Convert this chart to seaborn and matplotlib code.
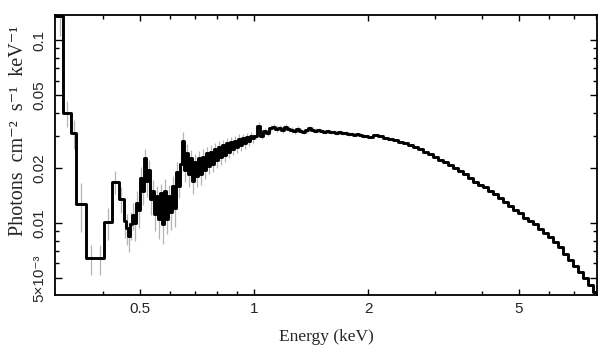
import numpy as np
import pandas as pd
import matplotlib
matplotlib.use("Agg")
import matplotlib.pyplot as plt
import seaborn as sns
from matplotlib.ticker import FixedLocator, FixedFormatter, NullFormatter

# ---------------- data (energy bins in keV, flux in photons cm^-2 s^-1 keV^-1)
soft_edges = [0.300, 0.314, 0.329, 0.340, 0.360, 0.383, 0.403, 0.423, 0.439, 0.454, 0.4595]
soft_flux = [0.135, 0.0398, 0.0309, 0.0127, 0.0064, 0.0064, 0.0101, 0.0168, 0.0135, 0.0103]
soft_err = [0.030, 0.0065, 0.0055, 0.0038, 0.0012, 0.0012, 0.0020, 0.0025, 0.0022, 0.0020]

mid_edges = [
    0.4595, 0.4651, 0.4708, 0.4766, 0.4824, 0.4883, 0.4942, 0.5003,
    0.5064, 0.5126, 0.5188, 0.5252, 0.5316, 0.5381, 0.5447, 0.5513,
    0.5581, 0.5649, 0.5718, 0.5788, 0.5859, 0.5930, 0.6003, 0.6076,
    0.6150, 0.6225, 0.6302, 0.6379, 0.6457, 0.6535, 0.6615, 0.6696,
    0.6778, 0.6861, 0.6945, 0.7030, 0.7115, 0.7202, 0.7290, 0.7380,
    0.7470, 0.7561, 0.7653, 0.7747, 0.7842, 0.7937, 0.8034, 0.8133,
    0.8232, 0.8333, 0.8434, 0.8537, 0.8642, 0.8747, 0.8854, 0.8962,
    0.9072, 0.9183, 0.9295, 0.9409, 0.9524, 0.9640, 0.9758, 0.9877,
    1.0000]
mid_flux = [
    0.0094, 0.0085, 0.0098, 0.0110, 0.0100, 0.0128, 0.0118, 0.0175,
    0.0150, 0.0225, 0.0170, 0.0195, 0.0135, 0.0150, 0.0112, 0.0140,
    0.0105, 0.0145, 0.0098, 0.0150, 0.0105, 0.0140, 0.0115, 0.0160,
    0.0120, 0.0190, 0.0160, 0.0210, 0.0280, 0.0195, 0.0240, 0.0185,
    0.0225, 0.0170, 0.0215, 0.0180, 0.0225, 0.0185, 0.0230, 0.0195,
    0.0240, 0.0205, 0.0245, 0.0210, 0.0255, 0.0220, 0.0260, 0.0228,
    0.0265, 0.0235, 0.0272, 0.0245, 0.0278, 0.0252, 0.0282, 0.0260,
    0.0288, 0.0265, 0.0292, 0.0272, 0.0296, 0.0280, 0.0300, 0.0290]
mid_err = [
    0.0018, 0.0016, 0.0017, 0.0019, 0.0020, 0.0021, 0.0024, 0.0026,
    0.0025, 0.0030, 0.0032, 0.0026, 0.0024, 0.0021, 0.0022, 0.0020,
    0.0023, 0.0019, 0.0021, 0.0024, 0.0018, 0.0022, 0.0024, 0.0020,
    0.0025, 0.0026, 0.0024, 0.0027, 0.0033, 0.0028, 0.0029, 0.0027,
    0.0025, 0.0026, 0.0024, 0.0022, 0.0023, 0.0023, 0.0022, 0.0022,
    0.0021, 0.0021, 0.0020, 0.0021, 0.0020, 0.0020, 0.0019, 0.0020,
    0.0019, 0.0019, 0.0018, 0.0019, 0.0018, 0.0018, 0.0017, 0.0018,
    0.0017, 0.0017, 0.0016, 0.0017, 0.0016, 0.0016, 0.0016, 0.0016]

hard_edges = [
    1.000, 1.018, 1.037, 1.056, 1.076, 1.095, 1.116, 1.136,
    1.157, 1.178, 1.200, 1.222, 1.244, 1.267, 1.291, 1.314,
    1.339, 1.363, 1.388, 1.414, 1.440, 1.466, 1.493, 1.521,
    1.549, 1.577, 1.606, 1.636, 1.666, 1.696, 1.727, 1.759,
    1.792, 1.825, 1.858, 1.892, 1.927, 1.962, 1.999]
hard_flux = [
    0.0300, 0.0340, 0.0300, 0.0318, 0.0312, 0.0330, 0.0336, 0.0325,
    0.0330, 0.0322, 0.0335, 0.0326, 0.0322, 0.0318, 0.0326, 0.0320,
    0.0316, 0.0322, 0.0330, 0.0324, 0.0320, 0.0322, 0.0318, 0.0314,
    0.0318, 0.0314, 0.0316, 0.0312, 0.0314, 0.0309, 0.0310, 0.0306,
    0.0308, 0.0304, 0.0305, 0.0301, 0.0300, 0.0297]
hard_err = [
    0.0014, 0.0016, 0.0014, 0.0013, 0.0013, 0.0013, 0.0013, 0.0012,
    0.0012, 0.0012, 0.0012, 0.0011, 0.0011, 0.0011, 0.0011, 0.0010,
    0.0010, 0.0010, 0.0010, 0.0010, 0.0009, 0.0009, 0.0009, 0.0009,
    0.0009, 0.0008, 0.0008, 0.0008, 0.0008, 0.0008, 0.0008, 0.0008,
    0.0007, 0.0007, 0.0007, 0.0007, 0.0007, 0.0007]

tail_edges = [
    1.999, 2.060, 2.124, 2.189, 2.257, 2.326, 2.398, 2.472,
    2.548, 2.627, 2.708, 2.791, 2.878, 2.966, 3.058, 3.152,
    3.249, 3.350, 3.453, 3.559, 3.669, 3.782, 3.899, 4.019,
    4.143, 4.271, 4.403, 4.539, 4.679, 4.823, 4.972, 5.125,
    5.283, 5.446, 5.614, 5.787, 5.966, 6.150, 6.339, 6.535,
    6.737, 6.944, 7.159, 7.379, 7.607, 7.842, 8.050]
tail_flux = [
    0.0296, 0.0303, 0.0300, 0.0290, 0.0287, 0.0283, 0.0276, 0.0272,
    0.0266, 0.0260, 0.0254, 0.0245, 0.0237, 0.0229, 0.0222, 0.0215,
    0.0207, 0.0200, 0.0192, 0.0185, 0.0176, 0.0168, 0.0162, 0.0157,
    0.0150, 0.0143, 0.0137, 0.0130, 0.0124, 0.0118, 0.0113, 0.0107,
    0.0102, 0.0098, 0.0093, 0.0088, 0.0084, 0.0079, 0.0074, 0.0068,
    0.0063, 0.0058, 0.0054, 0.0050, 0.0046, 0.0042]

x_ticks = [0.5, 1, 2, 5]
x_ticklabels = ["0.5", "1", "2", "5"]
x_minor = [0.4, 0.6, 0.7, 0.8, 0.9, 3, 4, 6, 7, 8]
y_ticks = [0.005, 0.01, 0.02, 0.05, 0.1]
y_ticklabels = ["5\u00d710\u207b\u00b3", "0.01", "0.02", "0.05", "0.1"]
y_minor = [0.006, 0.007, 0.008, 0.009, 0.03, 0.04, 0.06, 0.07, 0.08, 0.09]

# ---------------- assemble
edges = np.array(soft_edges + mid_edges[1:] + hard_edges[1:] + tail_edges[1:])
flux = np.array(soft_flux + mid_flux + hard_flux + tail_flux)
err_edges = np.array(soft_edges + mid_edges[1:] + hard_edges[1:])
err_flux = np.array(soft_flux + mid_flux + hard_flux)
err_sig = np.array(soft_err + mid_err + hard_err)
err_cent = np.sqrt(err_edges[:-1] * err_edges[1:])

step_df = pd.DataFrame({"energy": edges, "flux": np.r_[flux, flux[-1]]})

# ---------------- style
sns.set_style("ticks")
plt.rcParams["font.family"] = ["Liberation Sans", "DejaVu Sans"]

fig = plt.figure(figsize=(6.08, 3.57), dpi=100)
ax = fig.add_axes([0.0905, 0.174, 0.8915, 0.784])
ax.set_xscale("log")
ax.set_yscale("log")

ax.vlines(err_cent, err_flux - err_sig, err_flux + err_sig,
          color="#b4b4b4", lw=0.9, zorder=1)
sns.lineplot(data=step_df, x="energy", y="flux", drawstyle="steps-post",
             color="black", lw=2.1, estimator=None, sort=False, ax=ax, zorder=3)

ax.set_xlim(0.2985, 8.03)
ax.set_ylim(0.00404, 0.137)

ax.xaxis.set_major_locator(FixedLocator(x_ticks))
ax.xaxis.set_major_formatter(FixedFormatter(x_ticklabels))
ax.xaxis.set_minor_locator(FixedLocator(x_minor))
ax.xaxis.set_minor_formatter(NullFormatter())
ax.yaxis.set_major_locator(FixedLocator(y_ticks))
ax.yaxis.set_major_formatter(FixedFormatter(y_ticklabels))
ax.yaxis.set_minor_locator(FixedLocator(y_minor))
ax.yaxis.set_minor_formatter(NullFormatter())

ax.tick_params(which="both", direction="in", top=True, right=True,
               width=1.0, color="black", labelsize=11)
ax.tick_params(axis="x", which="major", length=4, pad=5)
ax.tick_params(axis="x", which="minor", length=3)
ax.tick_params(axis="y", which="major", length=5, pad=6, labelrotation=90)
ax.tick_params(axis="y", which="minor", length=3)
for lab in ax.get_yticklabels():
    lab.set_va("center")
    lab.set_ha("right")

for sp in ax.spines.values():
    sp.set_linewidth(1.3)
    sp.set_color("black")

serif = ["Liberation Serif", "DejaVu Serif"]
ax.set_xlabel("Energy (keV)", family=serif, fontsize=12.5)
ax.set_ylabel("Photons  cm\u207b\u00b2  s\u207b\u00b9  keV\u207b\u00b9", family=serif, fontsize=14.5)
ax.xaxis.set_label_coords(0.5, -0.15)
ax.xaxis.label.set_va("center")
ax.yaxis.set_label_coords(-0.068, 0.586)
ax.yaxis.label.set_va("center")

fig.savefig("out.png", dpi=100)
